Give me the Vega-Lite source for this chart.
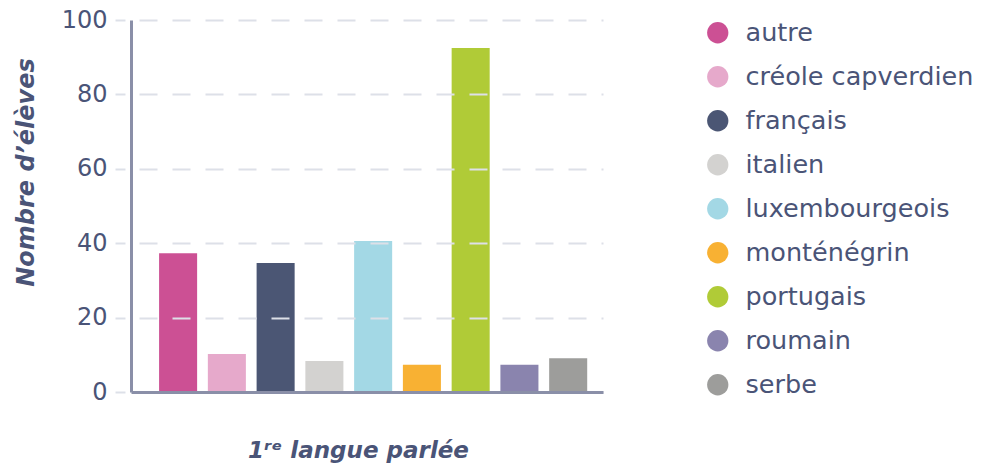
{
  "$schema": "https://vega.github.io/schema/vega-lite/v6.json",
  "autosize": {"type": "none"},
  "padding": {"left": 131, "top": 20, "right": 380, "bottom": 71},
  "width": 472,
  "height": 372,
  "background": "white",
  "config": {
    "view": {"stroke": null},
    "font": "DejaVu Sans"
  },
  "data": {
    "values": [
      {"langue": "autre", "eleves": 37.3},
      {"langue": "créole capverdien", "eleves": 10.2},
      {"langue": "français", "eleves": 34.7},
      {"langue": "italien", "eleves": 8.3},
      {"langue": "luxembourgeois", "eleves": 40.6},
      {"langue": "monténégrin", "eleves": 7.3},
      {"langue": "portugais", "eleves": 92.5},
      {"langue": "roumain", "eleves": 7.3},
      {"langue": "serbe", "eleves": 9.1}
    ]
  },
  "mark": {"type": "bar"},
  "encoding": {
    "x": {
      "field": "langue",
      "type": "nominal",
      "sort": null,
      "scale": {"paddingInner": 0.22, "paddingOuter": 0.45, "align": 0.64},
      "axis": {
        "title": "1ʳᵉ langue parlée",
        "titleFont": "DejaVu Sans",
        "titleFontSize": 23,
        "titleFontWeight": "bold",
        "titleFontStyle": "italic",
        "titleColor": "#4a5477",
        "titleX": 227,
        "titleY": 65,
        "titleBaseline": "alphabetic",
        "labels": false,
        "ticks": false,
        "grid": false,
        "domainColor": "#8a8fa8",
        "domainWidth": 3,
        "zindex": 1
      }
    },
    "y": {
      "field": "eleves",
      "type": "quantitative",
      "scale": {"domain": [0, 100], "nice": false},
      "axis": {
        "title": "Nombre d’élèves",
        "titleFont": "DejaVu Sans",
        "titleFontSize": 24,
        "titleFontWeight": "bold",
        "titleFontStyle": "italic",
        "titleColor": "#4a5477",
        "titleY": 152,
        "titlePadding": 23,
        "values": [0, 20, 40, 60, 80, 100],
        "labelFontSize": 24,
        "labelColor": "#4a5477",
        "labelPadding": 8,
        "tickSize": 16,
        "tickColor": "#dde0e8",
        "tickWidth": 2,
        "tickDash": [10, 6],
        "tickDashOffset": 10,
        "grid": true,
        "gridColor": "#dde0e8",
        "gridWidth": 2,
        "gridDash": [18, 15],
        "gridDashOffset": 25,
        "domainColor": "#8a8fa8",
        "domainWidth": 3,
        "zindex": 1
      }
    },
    "color": {
      "field": "langue",
      "type": "nominal",
      "sort": null,
      "scale": {
        "domain": ["autre", "créole capverdien", "français", "italien", "luxembourgeois", "monténégrin", "portugais", "roumain", "serbe"],
        "range": ["#cc5094", "#e6a9cb", "#4b5674", "#d3d2d0", "#a3d8e5", "#f8b133", "#b0cb37", "#8a84ae", "#9d9d9b"]
      },
      "legend": {
        "title": null,
        "orient": "none",
        "legendX": 574,
        "legendY": 0,
        "symbolType": "circle",
        "symbolSize": 452,
        "symbolStrokeWidth": 0,
        "symbolOpacity": 1,
        "labelFontSize": 25.5,
        "labelColor": "#4a5477",
        "labelOffset": 15,
        "rowPadding": 17,
        "labelLimit": 400
      }
    }
  }
}
